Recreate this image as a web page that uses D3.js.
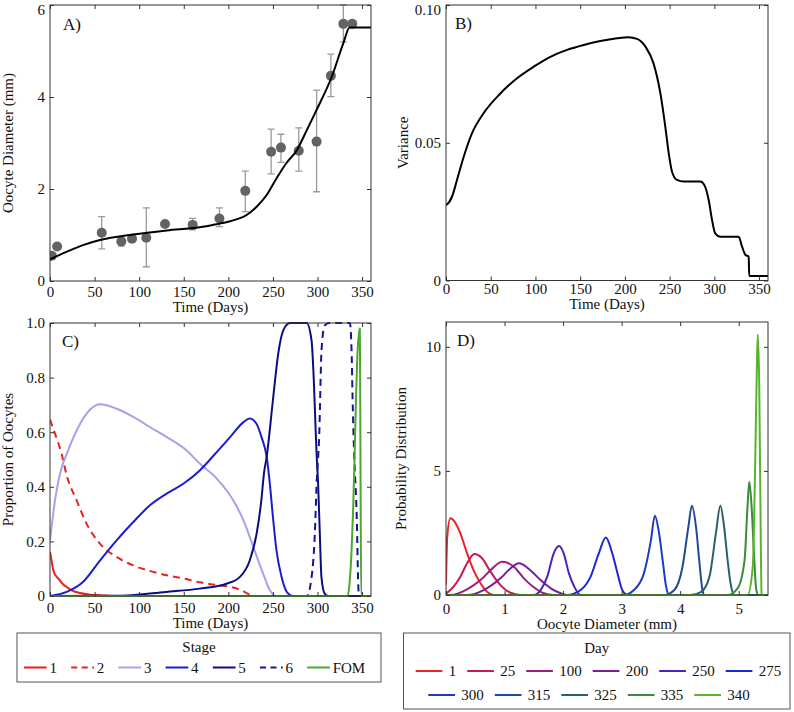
<!DOCTYPE html>
<html><head><meta charset="utf-8">
<script src="https://cdn.jsdelivr.net/npm/d3@7"></script>
<style>
body{margin:0;background:#fff}
text{font-family:"Liberation Serif","Times New Roman",serif;fill:#111}
</style>
</head><body><svg id="chart"></svg>
<script>
// ---------------- DATA ----------------
// Panel A: observed oocyte diameters (mean, error-bar low/high) and model fit
const obsDay  = [2, 8, 58, 80, 92, 108, 129, 160, 190, 219, 248, 259, 279, 299, 315, 329, 339];
const obsMean = [0.55, 0.75, 1.05, 0.86, 0.92, 0.94, 1.24, 1.22, 1.36, 1.96, 2.81, 2.90, 2.83, 3.03, 4.46, 5.59, 5.59];
const obsLow  = [null, null, 0.70, 0.76, 0.85, 0.31, null, 1.11, 1.18, 1.51, 2.33, 2.58, 2.39, 1.94, 4.01, 5.20, null];
const obsHigh = [null, null, 1.40, 0.93, 0.98, 1.59, null, 1.36, 1.59, 2.39, 3.30, 3.19, 3.33, 4.15, 4.93, 6.00, null];
const fitDay = [0, 19, 37, 56, 93, 131, 168, 185, 202, 220, 232, 243, 254, 265, 277, 288, 299, 316, 329, 336, 360];
const fitVal = [0.47, 0.64, 0.78, 0.89, 1.01, 1.10, 1.17, 1.23, 1.30, 1.43, 1.62, 1.87, 2.23, 2.56, 2.85, 3.28, 3.72, 4.44, 5.17, 5.51, 5.51];

// Panel B: variance
const varDay = [0, 1, 6.7, 12.3, 19.8, 29, 42, 60.8, 79.4, 98, 116.7, 135.3, 154, 172.6, 191.2, 204, 213.6, 223, 232, 239.7, 245.2, 249, 252.7, 258.3, 265.7, 284.4, 288.8, 293.7, 297.4, 301, 306.7, 327.2, 331, 334.7, 338.4, 339, 360];
const varVal = [0.0274, 0.0276, 0.0304, 0.0365, 0.0449, 0.0534, 0.0607, 0.0679, 0.0734, 0.0776, 0.0812, 0.0837, 0.0855, 0.0869, 0.0879, 0.0883, 0.0877, 0.0849, 0.0788, 0.0679, 0.0558, 0.0462, 0.0395, 0.0365, 0.0359, 0.0359, 0.0347, 0.0292, 0.0220, 0.0171, 0.0159, 0.0159, 0.0123, 0.0093, 0.0087, 0.0016, 0.0016];

// Panel C: proportion of oocytes per stage
const stageNames = ["1", "2", "3", "4", "5", "6", "FOM"];
const s1Day = [0, 2, 3.7, 6, 9.4, 14, 18.7, 25, 33.6, 45, 56, 70, 360];
const s1Val = [0.161, 0.125, 0.094, 0.077, 0.064, 0.045, 0.033, 0.020, 0.011, 0.005, 0.003, 0, 0];
const s2Day = [0, 5, 13, 18.7, 29.9, 41, 56, 74.7, 93.4, 112, 130.8, 149.5, 168, 187, 205.6, 217, 224, 235, 360];
const s2Val = [0.646, 0.60, 0.521, 0.442, 0.35, 0.265, 0.192, 0.143, 0.112, 0.092, 0.076, 0.064, 0.050, 0.040, 0.031, 0.017, 0.005, 0, 0];
const s3Day = [0, 5.6, 13, 18.7, 30, 41, 56, 74.8, 93.4, 112, 131, 153, 168, 187, 205.6, 217, 228, 239, 246.6, 254, 360];
const s3Val = [0.204, 0.35, 0.47, 0.52, 0.607, 0.668, 0.702, 0.686, 0.656, 0.619, 0.582, 0.534, 0.485, 0.43, 0.35, 0.277, 0.18, 0.082, 0.021, 0, 0];
const s4Day = [0, 18.7, 37, 56, 74.7, 93.4, 112, 130.8, 149.5, 168, 185, 202, 217, 224, 231.7, 237.4, 243, 246.6, 250, 254, 259.7, 267, 272.8, 360];
const s4Val = [0, 0.015, 0.051, 0.13, 0.204, 0.271, 0.332, 0.375, 0.411, 0.46, 0.52, 0.582, 0.637, 0.65, 0.63, 0.58, 0.51, 0.41, 0.29, 0.167, 0.07, 0.009, 0, 0];
const s5Day = [0, 80, 130, 168, 198, 213, 224, 231.7, 237, 240, 243, 250, 256, 261.6, 269, 287.8, 293.3, 296, 298, 299, 300.7, 302.6, 304.4, 308, 312, 360];
const s5Val = [0, 0.001, 0.015, 0.027, 0.045, 0.07, 0.13, 0.228, 0.35, 0.45, 0.51, 0.717, 0.889, 0.973, 1.0, 1.0, 0.937, 0.779, 0.60, 0.52, 0.41, 0.228, 0.07, 0.009, 0, 0];
const s6Day = [0, 288, 293.4, 297, 299, 302, 304.5, 308, 313, 336.3, 338.2, 339.3, 341, 344, 346, 347, 360];
const s6Val = [0, 0, 0.07, 0.228, 0.41, 0.595, 0.90, 0.99, 1.0, 1.0, 0.90, 0.73, 0.53, 0.29, 0.02, 0, 0];
const fomDay = [0, 334, 336, 338, 340, 341.5, 343, 345, 346.5, 347.5, 348.2, 349, 360];
const fomVal = [0, 0, 0.05, 0.15, 0.32, 0.5, 0.7, 0.9, 0.96, 0.98, 0.5, 0, 0];

// Panel D: probability distributions of oocyte diameter on given days
const dayNames = ["1", "25", "100", "200", "250", "275", "300", "315", "325", "335", "340"];
const d1Mm = [0, 0.02, 0.074, 0.15, 0.245, 0.36, 0.47, 0.59, 0.70, 0.82, 5.5];
const d1Val = [0.4, 2.3, 3.09, 2.95, 2.48, 1.68, 1.0, 0.47, 0.13, 0, 0];
const d25Mm = [0, 0.13, 0.245, 0.36, 0.485, 0.616, 0.76, 0.93, 1.10, 1.27, 5.5];
const d25Val = [0.05, 0.34, 0.74, 1.28, 1.65, 1.48, 0.94, 0.40, 0.09, 0, 0];
const d100Mm = [0, 0.07, 0.36, 0.59, 0.76, 0.96, 1.16, 1.33, 1.5, 1.67, 1.84, 5.5];
const d100Val = [0, 0, 0.23, 0.6, 1.0, 1.34, 1.14, 0.67, 0.31, 0.07, 0, 0];
const d200Mm = [0, 0.36, 0.645, 0.93, 1.1, 1.244, 1.44, 1.615, 1.79, 1.96, 2.07, 5.5];
const d200Val = [0, 0, 0.2, 0.67, 1.07, 1.28, 1.0, 0.6, 0.27, 0.07, 0, 0];
const d250Mm = [0, 1.5, 1.615, 1.73, 1.84, 1.93, 2.01, 2.10, 2.19, 2.30, 5.5];
const d250Val = [0, 0, 0.2, 0.74, 1.68, 1.97, 1.68, 0.87, 0.34, 0, 0];
const d275Mm = [0, 2.07, 2.3, 2.47, 2.61, 2.73, 2.84, 2.93, 3.01, 3.1, 5.5];
const d275Val = [0, 0, 0.2, 0.74, 1.68, 2.32, 1.68, 0.87, 0.2, 0, 0];
const d300Mm = [0, 3.04, 3.21, 3.38, 3.5, 3.567, 3.64, 3.7, 3.76, 3.81, 5.5];
const d300Val = [0, 0, 0.2, 0.87, 2.2, 3.19, 2.48, 1.41, 0.34, 0, 0];
const d315Mm = [0, 3.73, 3.9, 4.04, 4.14, 4.2, 4.27, 4.33, 4.38, 4.41, 5.5];
const d315Val = [0, 0, 0.2, 1.14, 2.75, 3.6, 2.75, 1.28, 0.2, 0, 0];
const d325Mm = [0, 4.18, 4.36, 4.5, 4.61, 4.686, 4.75, 4.81, 4.87, 4.93, 5.5];
const d325Val = [0, 0, 0.13, 0.74, 2.48, 3.6, 2.75, 1.41, 0.34, 0, 0];
const d335Mm = [0, 4.81, 4.98, 5.1, 5.15, 5.18, 5.22, 5.26, 5.3, 5.34, 5.5];
const d335Val = [0, 0, 0.27, 1.41, 3.56, 4.56, 3.56, 1.68, 0.2, 0, 0];
const d340Mm = [0, 5.15, 5.24, 5.28, 5.31, 5.325, 5.35, 5.37, 5.39, 5.41, 5.5];
const d340Val = [0, 0, 1.14, 5.17, 9.2, 10.5, 8.5, 3.8, 0.07, 0, 0];

// Tick values / labels
const timeTicks = [0, 50, 100, 150, 200, 250, 300, 350];
const timeTickLabels = ["0", "50", "100", "150", "200", "250", "300", "350"];
const aYTicks = [0, 2, 4, 6];
const aYTickLabels = ["0", "2", "4", "6"];
const bYTicks = [0, 0.05, 0.10];
const bYTickLabels = ["0", "0.05", "0.10"];
const cYTicks = [0, 0.2, 0.4, 0.6, 0.8, 1.0];
const cYTickLabels = ["0", "0.2", "0.4", "0.6", "0.8", "1.0"];
const dXTicks = [0, 1, 2, 3, 4, 5];
const dXTickLabels = ["0", "1", "2", "3", "4", "5"];
const dYTicks = [0, 5, 10];
const dYTickLabels = ["0", "5", "10"];

// ---------------- STYLES ----------------
const stageColors = ["#e8201e", "#e8201e", "#a3a3ec", "#1c1cd0", "#0c0c80", "#141490", "#4aa82a"];
const stageDash = [null, "7,5", null, null, null, "7,5", null];
const dayColors = ["#e8242a", "#c41c50", "#a01c7c", "#7a1c9c", "#4c22bc", "#1a28d8", "#1e3ac4", "#204a92", "#28616e", "#3a8a3a", "#58b42a"];

// ---------------- DRAW ----------------
const W = 794, H = 712;
const svg = d3.select("#chart").attr("width", W).attr("height", H);
const AX = "#333";

function makePanel(cfg) {
  const x = d3.scaleLinear().domain(cfg.xDom).range([cfg.x0, cfg.x1]);
  const y = d3.scaleLinear().domain(cfg.yDom).range([cfg.y1, cfg.y0]);
  const id = "clip" + cfg.name;
  svg.append("clipPath").attr("id", id).append("rect")
    .attr("x", cfg.x0).attr("y", cfg.y0 - 1.5)
    .attr("width", cfg.x1 - cfg.x0).attr("height", cfg.y1 - cfg.y0 + 3);
  const g = svg.append("g");
  const plot = g.append("g").attr("clip-path", `url(#${id})`);
  return { cfg, x, y, g, plot };
}

function drawAxes(p) {
  const { cfg, x, y, g } = p;
  const fs = 15;
  const gb = g.append("g").attr("transform", `translate(0,${cfg.y1})`)
    .call(d3.axisBottom(x).tickValues(cfg.xTicks).tickFormat((d, i) => cfg.xLabels[i])
      .tickSizeInner(-4).tickSizeOuter(0));
  gb.selectAll("text").attr("y", cfg.xLabY).attr("dy", 0).style("font-size", fs + "px");
  g.append("g").attr("transform", `translate(0,${cfg.y0})`)
    .call(d3.axisTop(x).tickValues(cfg.xTicks).tickFormat("").tickSizeInner(-4).tickSizeOuter(0));
  const gl = g.append("g").attr("transform", `translate(${cfg.x0},0)`)
    .call(d3.axisLeft(y).tickValues(cfg.yTicks).tickFormat((d, i) => cfg.yLabels[i])
      .tickSizeInner(-4).tickSizeOuter(0).tickPadding(5));
  // keep labels near the top edge fully inside the picture
  gl.selectAll("text").style("font-size", fs + "px")
    .attr("dy", d => (y(d) < 10 ? (14 - y(d)) + "px" : "0.32em"));
  g.append("g").attr("transform", `translate(${cfg.x1},0)`)
    .call(d3.axisRight(y).tickValues(cfg.yTicks).tickFormat("").tickSizeInner(-4).tickSizeOuter(0));
  g.selectAll(".domain").remove();
  g.selectAll(".tick line").attr("stroke", AX);
  g.selectAll(".tick text").attr("fill", "#111")
    .style("font-family", '"Liberation Serif","Times New Roman",serif');
  g.append("rect").attr("x", cfg.x0).attr("y", cfg.y0)
    .attr("width", cfg.x1 - cfg.x0).attr("height", cfg.y1 - cfg.y0)
    .attr("fill", "none").attr("stroke", AX).attr("stroke-width", 1);
  g.append("text").attr("x", (cfg.x0 + cfg.x1) / 2).attr("y", cfg.y1 + cfg.xTitleY)
    .attr("text-anchor", "middle").style("font-size", "15px").text(cfg.xTitle);
  g.append("text").attr("transform", `translate(${cfg.yTitleX},${(cfg.y0 + cfg.y1) / 2}) rotate(-90)`)
    .attr("text-anchor", "middle").style("font-size", "15px").text(cfg.yTitle);
  g.append("text").attr("x", cfg.x0 + cfg.tagDx).attr("y", cfg.y0 + cfg.tagDy)
    .style("font-size", "17px").text(cfg.tag);
}

function line(p, xs, ys, color, width, dash) {
  const pts = xs.map((v, i) => [v, ys[i]]);
  const gen = d3.line().x(d => p.x(d[0])).y(d => p.y(d[1])).curve(d3.curveMonotoneX);
  const path = p.plot.append("path").attr("d", gen(pts)).attr("fill", "none")
    .attr("stroke", color).attr("stroke-width", width).attr("stroke-linejoin", "round");
  if (dash) path.attr("stroke-dasharray", dash);
  return path;
}

// ---- Panel A ----
const pA = makePanel({ name: "A", x0: 50, x1: 371, y0: 5, y1: 281, xDom: [0, 360], yDom: [0, 6],
  xTicks: timeTicks, xLabels: timeTickLabels, yTicks: aYTicks, yLabels: aYTickLabels,
  xLabY: 16, xTitleY: 30.5, xTitle: "Time (Days)", yTitle: "Oocyte Diameter (mm)", yTitleX: 13, tag: "A)", tagDx: 13, tagDy: 25 });
obsDay.forEach((d, i) => {
  if (obsLow[i] == null) return;
  const xx = pA.x(d), cap = 3.5;
  const eg = pA.plot.append("g").attr("stroke", "#9a9a9a").attr("stroke-width", 1.3);
  eg.append("line").attr("x1", xx).attr("x2", xx).attr("y1", pA.y(obsLow[i])).attr("y2", pA.y(obsHigh[i]));
  eg.append("line").attr("x1", xx - cap).attr("x2", xx + cap).attr("y1", pA.y(obsLow[i])).attr("y2", pA.y(obsLow[i]));
  eg.append("line").attr("x1", xx - cap).attr("x2", xx + cap).attr("y1", pA.y(obsHigh[i])).attr("y2", pA.y(obsHigh[i]));
});
pA.plot.selectAll("circle.obs").data(obsDay).enter().append("circle")
  .attr("cx", d => pA.x(d)).attr("cy", (d, i) => pA.y(obsMean[i])).attr("r", 5)
  .attr("fill", "#636363");
line(pA, fitDay, fitVal, "#000", 2);

// ---- Panel B ----
const pB = makePanel({ name: "B", x0: 446, x1: 768, y0: 5, y1: 280.5, xDom: [0, 360], yDom: [0, 0.1],
  xTicks: timeTicks, xLabels: timeTickLabels, yTicks: bYTicks, yLabels: bYTickLabels,
  xLabY: 13.5, xTitleY: 28, xTitle: "Time (Days)", yTitle: "Variance", yTitleX: 408, tag: "B)", tagDx: 9, tagDy: 24 });
line(pB, varDay, varVal, "#000", 2);

// ---- Panel C ----
const pC = makePanel({ name: "C", x0: 50, x1: 371, y0: 323, y1: 596, xDom: [0, 360], yDom: [0, 1],
  xTicks: timeTicks, xLabels: timeTickLabels, yTicks: cYTicks, yLabels: cYTickLabels,
  xLabY: 17, xTitleY: 32, xTitle: "Time (Days)", yTitle: "Proportion of Oocytes", yTitleX: 13, tag: "C)", tagDx: 12, tagDy: 24 });
const stageX = [s1Day, s2Day, s3Day, s4Day, s5Day, s6Day, fomDay];
const stageY = [s1Val, s2Val, s3Val, s4Val, s5Val, s6Val, fomVal];
stageNames.forEach((n, i) => line(pC, stageX[i], stageY[i], stageColors[i], 2, stageDash[i]));

// ---- Panel D ----
const pD = makePanel({ name: "D", x0: 446, x1: 768, y0: 322, y1: 595, xDom: [0, 5.5], yDom: [0, 11],
  xTicks: dXTicks, xLabels: dXTickLabels, yTicks: dYTicks, yLabels: dYTickLabels,
  xLabY: 19, xTitleY: 34, xTitle: "Oocyte Diameter (mm)", yTitle: "Probability Distribution", yTitleX: 406, tag: "D)", tagDx: 11, tagDy: 24 });
const dayX = [d1Mm, d25Mm, d100Mm, d200Mm, d250Mm, d275Mm, d300Mm, d315Mm, d325Mm, d335Mm, d340Mm];
const dayY = [d1Val, d25Val, d100Val, d200Val, d250Val, d275Val, d300Val, d315Val, d325Val, d335Val, d340Val];
dayNames.forEach((n, i) => line(pD, dayX[i], dayY[i], dayColors[i], 2));

[pA, pB, pC, pD].forEach(p => drawAxes(p));

// ---- Legends ----
function legendBox(x0, y0, x1, y1, title, titleY) {
  svg.append("rect").attr("x", x0).attr("y", y0).attr("width", x1 - x0).attr("height", y1 - y0)
    .attr("fill", "#fff").attr("stroke", "#555").attr("stroke-width", 1);
  svg.append("text").attr("x", (x0 + x1) / 2).attr("y", titleY).attr("text-anchor", "middle")
    .style("font-size", "15px").text(title);
}
legendBox(17, 633, 381, 682, "Stage", 652);
stageNames.forEach((n, i) => {
  const lx = 24 + i * 47.2, ly = 667.5;
  const l = svg.append("line").attr("x1", lx).attr("x2", lx + 22.7).attr("y1", ly).attr("y2", ly)
    .attr("stroke", stageColors[i]).attr("stroke-width", 2);
  if (stageDash[i]) l.attr("stroke-dasharray", "6,4.5");
  svg.append("text").attr("x", lx + 25.5).attr("y", ly + 5).style("font-size", "15px").text(n);
});

legendBox(403.5, 633, 790, 709, "Day", 653);
function legendRow(names, colors, startX, ly) {
  const g = svg.append("g");
  let cx = 0;
  names.forEach((n, i) => {
    g.append("line").attr("x1", cx).attr("x2", cx + 26.7).attr("y1", ly).attr("y2", ly)
      .attr("stroke", colors[i]).attr("stroke-width", 2);
    const t = g.append("text").attr("x", cx + 33).attr("y", ly + 5).style("font-size", "15px").text(n);
    cx += 33 + t.node().getComputedTextLength() + 11;
  });
  g.attr("transform", `translate(${startX},0)`);
}
legendRow(dayNames.slice(0, 6), dayColors.slice(0, 6), 415.7, 671);
legendRow(dayNames.slice(6), dayColors.slice(6), 428.3, 695);
</script>
</body></html>
